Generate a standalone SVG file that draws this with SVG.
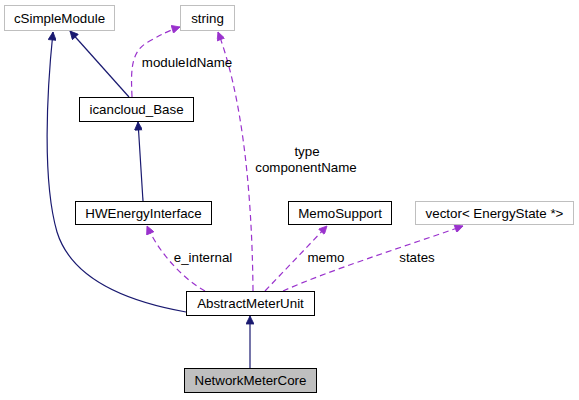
<svg xmlns="http://www.w3.org/2000/svg" width="579" height="400" viewBox="0 0 579 400">
<style>
text{font-family:"Liberation Sans",Arial,sans-serif;font-size:13.33px;fill:#000}
.n text{text-anchor:middle}
.box{fill:#fff;stroke:#000;stroke-width:1}
.ext{fill:#fff;stroke:#bfbfbf;stroke-width:1}
.cur{fill:#bfbfbf;stroke:#000;stroke-width:1}
.inh{fill:none;stroke:#191970;stroke-width:1.2}
.use{fill:none;stroke:#9a32cd;stroke-width:1.2;stroke-dasharray:6,4}
.lbl{text-anchor:middle}
</style>
<defs>
<marker id="ab" viewBox="0 0 10 10" refX="10" refY="5" markerWidth="11" markerHeight="8" markerUnits="userSpaceOnUse" orient="auto">
<path d="M0,0 L10,5 L0,10 z" fill="#191970" stroke="#191970"/>
</marker>
<marker id="ap" viewBox="0 0 10 10" refX="10" refY="5" markerWidth="11" markerHeight="8" markerUnits="userSpaceOnUse" orient="auto">
<path d="M0,0 L10,5 L0,10 z" fill="#9a32cd" stroke="#9a32cd"/>
</marker>
</defs>
<g id="edges">
<path class="inh" d="M186,312 C130,302 72,280 57,232 C42,180 47,90 53,32" marker-end="url(#ab)"/>
<path class="inh" d="M129,97 L70,31" marker-end="url(#ab)"/>
<path class="inh" d="M143,201 L138,122" marker-end="url(#ab)"/>
<path class="inh" d="M250,368 L250,316" marker-end="url(#ab)"/>
<path class="use" d="M205,291 C185,280 160,255 147,226" marker-end="url(#ap)"/>
<path class="use" d="M132,97 C131,72 130,52 148,42 C160,35 170,30 180,27" marker-end="url(#ap)"/>
<path class="use" d="M253,291 C252,180 240,90 218,32" marker-end="url(#ap)"/>
<path class="use" d="M265,291 L327,226" marker-end="url(#ap)"/>
<path class="use" d="M283,291 C330,270 400,248 463,226" marker-end="url(#ap)"/>
<text class="lbl" x="187" y="67">moduleIdName</text>
<text class="lbl" x="203" y="262">e_internal</text>
<text class="lbl" x="307" y="156">type</text>
<text class="lbl" x="306" y="172">componentName</text>
<text class="lbl" x="326" y="262">memo</text>
<text class="lbl" x="417" y="262">states</text>
</g>
<g id="cSimpleModule" class="n"><rect class="ext" x="4.5" y="5.5" width="110" height="25"/><text x="59.5" y="22.5">cSimpleModule</text></g>
<g id="string" class="n"><rect class="ext" x="180.5" y="5.5" width="54" height="25"/><text x="207.5" y="22.5">string</text></g>
<g id="icancloud_Base" class="n"><rect class="box" x="79.5" y="97.5" width="114" height="24"/><text x="136.5" y="114">icancloud_Base</text></g>
<g id="HWEnergyInterface" class="n"><rect class="box" x="75.5" y="201.5" width="136" height="23"/><text x="143.5" y="217.5">HWEnergyInterface</text></g>
<g id="MemoSupport" class="n"><rect class="box" x="288.5" y="201.5" width="103" height="23"/><text x="340" y="217.5">MemoSupport</text></g>
<g id="vector" class="n"><rect class="ext" x="415.5" y="201.5" width="158" height="23"/><text x="494.5" y="217.5">vector&lt; EnergyState *&gt;</text></g>
<g id="AbstractMeterUnit" class="n"><rect class="box" x="186.5" y="291.5" width="128" height="24"/><text x="250.5" y="308">AbstractMeterUnit</text></g>
<g id="NetworkMeterCore" class="n"><rect class="cur" x="184.5" y="368.5" width="132" height="24"/><text x="250.5" y="385">NetworkMeterCore</text></g>
</svg>
